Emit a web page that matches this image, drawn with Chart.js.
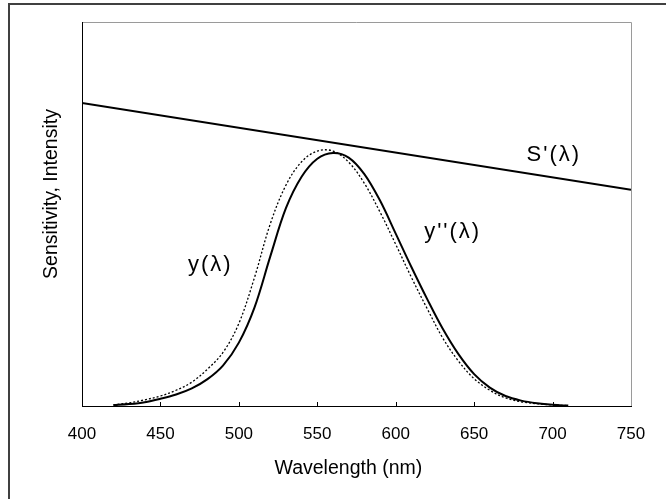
<!DOCTYPE html>
<html><head><meta charset="utf-8">
<script src="https://cdn.jsdelivr.net/npm/chart.js@4/dist/chart.umd.min.js"></script>
<style>html,body{margin:0;padding:0;background:#fff}#wrap{width:666px;height:499px}</style>
</head><body><div id="wrap"><canvas id="c" width="666" height="499"></canvas></div>
<script>
// ---- data ----
const wavelengths = [420,430,440,450,460,470,480,490,500,510,520,530,540,550,560,570,580,590,600,610,620,630,640,650,660,670,680,690,700,710];
const yLambda     = [0.3,0.8,1.6,2.6,4.1,6.2,9.6,14.0,21.5,33.5,47.4,57.5,63.6,66.4,66.4,63.5,58.0,50.5,42.1,33.5,25.4,17.7,11.7,7.1,4.1,2.1,1.1,0.6,0.3,0.1];
const yDoublePrime= [0.2,0.5,1.0,1.9,3.0,4.6,7.0,10.6,16.5,25.7,38.9,51.5,59.7,64.4,65.9,64.7,60.4,53.5,44.9,36.2,27.9,20.1,13.5,8.3,4.8,2.6,1.4,0.7,0.3,0.1];
const sPrimeWavelengths = [400,750];
const sPrimeValues      = [78.9,56.3];
const xTickValues = [400,450,500,550,600,650,700,750];
const curveLabels = ["S'(λ)","y(λ)","y''(λ)"];
const curveLabelAnchorX = [700.8,481.8,636.3];
const curveLabelAnchorY = [65.4,36.7,45.3];

const toPts = (xs, ys) => xs.map((x,i)=>({x, y: ys[i]}));
const FONT = '"Liberation Sans", Arial, sans-serif';

const decor = {
  id:'decor',
  afterDatasetsDraw(chart){
    const {ctx, chartArea:a, scales:{x,y}} = chart;
    ctx.save();
    // outer frame
    ctx.strokeStyle='#404040'; ctx.lineWidth=2;
    ctx.strokeRect(9,4,700,600);
    // plot frame top/right (gray), left (black)
    ctx.lineWidth=1;
    ctx.strokeStyle='#9a9a9a';
    ctx.beginPath(); ctx.moveTo(a.left,a.top+0.5); ctx.lineTo(a.right+0.5,a.top+0.5); ctx.lineTo(a.right+0.5,a.bottom); ctx.stroke();
    ctx.strokeStyle='#000';
    ctx.beginPath(); ctx.moveTo(a.left+0.5,a.top); ctx.lineTo(a.left+0.5,a.bottom); ctx.stroke();
    // inward ticks
    x.ticks.forEach(t=>{
      if(t.value<=x.min||t.value>=x.max) return;
      const px=Math.round(x.getPixelForValue(t.value))+0.5;
      ctx.beginPath(); ctx.moveTo(px,a.bottom); ctx.lineTo(px,a.bottom-4); ctx.stroke();
    });
    // y axis title
    ctx.fillStyle='#000';
    ctx.font='19.5px '+FONT;
    ctx.textAlign='center'; ctx.textBaseline='middle';
    ctx.translate(52,194); ctx.rotate(-Math.PI/2);
    ctx.fillText('Sensitivity, Intensity',0,0);
    ctx.restore();
    // curve labels
    ctx.save();
    ctx.fillStyle='#000';
    ctx.font='22px '+FONT;
    try{ctx.letterSpacing='2px';}catch(e){}
    ctx.textAlign='center'; ctx.textBaseline='middle';
    curveLabels.forEach((t,i)=>{
      ctx.fillText(t, x.getPixelForValue(curveLabelAnchorX[i]), y.getPixelForValue(curveLabelAnchorY[i]));
    });
    ctx.restore();
  }
};

new Chart(document.getElementById('c'), {
  type:'line',
  data:{datasets:[
    {label:"S'(λ)", data:toPts(sPrimeWavelengths,sPrimeValues), borderColor:'#000', borderWidth:2, pointRadius:0},
    {label:"y''(λ)", data:toPts(wavelengths,yDoublePrime), borderColor:'#000', borderWidth:2, pointRadius:0, tension:0.35},
    {label:"y(λ)", data:toPts(wavelengths,yLambda), borderColor:'#000', borderWidth:1.3, borderDash:[2,2], pointRadius:0, tension:0.35}
  ]},
  options:{
    responsive:false, animation:false, devicePixelRatio:1,
    layout:{padding:{left:82,top:22,right:35,bottom:0}},
    plugins:{legend:{display:false},tooltip:{enabled:false}},
    scales:{
      x:{type:'linear', min:400, max:750,
        afterBuildTicks(s){ s.ticks = xTickValues.map(v=>({value:v})); },
        afterFit(s){ s.height = 93; },
        ticks:{font:{size:17,family:FONT}, color:'#000', padding:18, maxRotation:0},
        grid:{display:false, drawTicks:false},
        border:{display:true,color:'#000',width:1},
        title:{display:true,text:'Wavelength (nm)   ',color:'#000',font:{size:19.5,family:FONT},padding:{top:0,bottom:19}}
      },
      y:{type:'linear', min:0, max:100, display:false}
    }
  },
  plugins:[decor]
});
</script></body></html>
